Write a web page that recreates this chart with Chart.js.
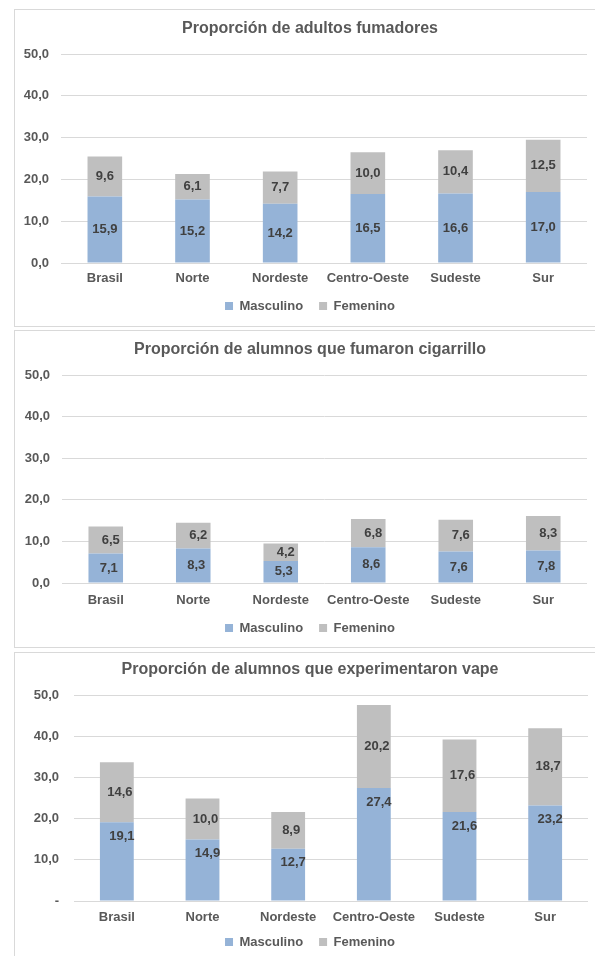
<!DOCTYPE html>
<html><head><meta charset="utf-8">
<script src="https://cdn.jsdelivr.net/npm/chart.js@4"></script>
<style>
html,body{margin:0;padding:0;background:#fff;overflow:hidden;width:595px;height:956px;position:relative;}
.box{position:absolute;left:14px;width:600px;border:1px solid #D9D9D9;border-right:none;background:#fff;overflow:hidden}
.box canvas{display:block}
</style></head><body>
<div class="box" style="top:9px;height:316px"><canvas id="c1" width="590" height="316"></canvas></div>
<div class="box" style="top:330px;height:316px"><canvas id="c2" width="590" height="316"></canvas></div>
<div class="box" style="top:652px;height:310px"><canvas id="c3" width="590" height="303"></canvas></div>
<script>
const categories = ['Brasil','Norte','Nordeste','Centro-Oeste','Sudeste','Sur'];
const seriesNames = ['Masculino','Femenino'];
const yTicks = [0,10,20,30,40,50];

const title1 = 'Proporción de adultos fumadores';
const masc1 = [15.9,15.2,14.2,16.5,16.6,17.0];
const fem1  = [9.6,6.1,7.7,10.0,10.4,12.5];

const title2 = 'Proporción de alumnos que fumaron cigarrillo';
const masc2 = [7.1,8.3,5.3,8.6,7.6,7.8];
const fem2  = [6.5,6.2,4.2,6.8,7.6,8.3];

const title3 = 'Proporción de alumnos que experimentaron vape';
const masc3 = [19.1,14.9,12.7,27.4,21.6,23.2];
const fem3  = [14.6,10.0,8.9,20.2,17.6,18.7];

const FONT = '"Liberation Sans", Arial, Helvetica, sans-serif';
Chart.defaults.font.family = FONT;
Chart.defaults.color = '#595959';

const fmt = v => v.toFixed(1).replace('.', ',');

const barLabels = {
  id: 'barLabels',
  afterDatasetsDraw(chart, args, opts) {
    const ctx = chart.ctx;
    ctx.save();
    ctx.font = 'bold 13px ' + FONT;
    ctx.fillStyle = '#404040';
    ctx.textAlign = 'center';
    ctx.textBaseline = 'middle';
    chart.data.datasets.forEach((ds, di) => {
      const meta = chart.getDatasetMeta(di);
      meta.data.forEach((el, i) => {
        const p = el.getProps(['x','y','base'], true);
        let ty = (p.y + p.base) / 2;
        if (opts.topInset && opts.topInset[di] != null) ty = p.y + opts.topInset[di];
        const dx = opts.dx ? opts.dx[di] : 0;
        ctx.fillText(fmt(ds.data[i]), p.x + dx, ty);
      });
    });
    ctx.restore();
  }
};

function makeChart(id, title, masc, fem, L) {
  const TLH = 16 * 1.2;
  const P = 16;
  const legendTop = L.legendCenter - P - 6.5;
  const legendBottom = legendTop + 23 + P;
  new Chart(document.getElementById(id), {
    type: 'bar',
    data: {
      labels: categories,
      datasets: [
        { label: seriesNames[0], data: masc, backgroundColor: '#95B3D7', stack: 's' },
        { label: seriesNames[1], data: fem, backgroundColor: '#BFBFBF', stack: 's' }
      ]
    },
    options: {
      responsive: false,
      animation: false,
      layout: { padding: { left: 0, right: 0, top: 0, bottom: L.height - legendBottom } },
      datasets: { bar: { categoryPercentage: 1, barPercentage: 0.395 } },
      plugins: {
        title: {
          display: true, text: title, color: '#595959',
          font: { size: 16, weight: 'bold' },
          padding: { top: L.titleCenter - TLH / 2, bottom: L.plotTop - L.titleCenter - TLH / 2 }
        },
        legend: {
          position: 'bottom',
          labels: { boxWidth: 8, boxHeight: 8, padding: P, color: '#595959', font: { size: 13, weight: 'bold' } }
        },
        tooltip: { enabled: false },
        barLabels: { dx: L.dx, topInset: L.topInset }
      },
      scales: {
        x: {
          stacked: true,
          grid: { display: false, drawTicks: false },
          border: { display: false },
          ticks: { color: '#595959', font: { size: 13, weight: 'bold' }, padding: L.xLabelCenter - L.plotBottom - 7.8, maxRotation: 0, autoSkip: false },
          afterFit(s) {
            s.height = legendTop - L.plotBottom;
            s._computeLabelArea = () => undefined;
          }
        },
        y: {
          stacked: true,
          min: yTicks[0], max: yTicks[yTicks.length - 1],
          grid: { color: '#D9D9D9', lineWidth: 1, drawTicks: false },
          border: { display: false },
          ticks: {
            stepSize: yTicks[1] - yTicks[0],
            color: '#595959', font: { size: 13, weight: 'bold' },
            padding: L.plotLeft - L.tickRight,
            callback: v => (v === 0 && L.zeroDash) ? '-' : fmt(v)
          },
          afterFit(s) { s.width = L.plotLeft; }
        },
        yR: {
          position: 'right', display: true,
          grid: { display: false, drawTicks: false },
          border: { display: false },
          ticks: { display: false },
          afterFit(s) { s.width = 590 - L.plotRight; }
        }
      }
    },
    plugins: [barLabels]
  });
}

makeChart('c1', title1, masc1, fem1, {
  height: 316, titleCenter: 19, plotTop: 44, plotBottom: 253, xLabelCenter: 268.5, legendCenter: 296,
  plotLeft: 46, tickRight: 34, plotRight: 572, dx: [0, 0], topInset: null, zeroDash: false
});
makeChart('c2', title2, masc2, fem2, {
  height: 316, titleCenter: 19, plotTop: 44, plotBottom: 252, xLabelCenter: 269.5, legendCenter: 297,
  plotLeft: 47, tickRight: 35, plotRight: 572, dx: [3, 5], topInset: null, zeroDash: false
});
makeChart('c3', title3, masc3, fem3, {
  height: 303, titleCenter: 17, plotTop: 42, plotBottom: 248, xLabelCenter: 264, legendCenter: 289,
  plotLeft: 59, tickRight: 44, plotRight: 573, dx: [5, 3], topInset: [14, null], zeroDash: true
});
</script>
</body></html>
